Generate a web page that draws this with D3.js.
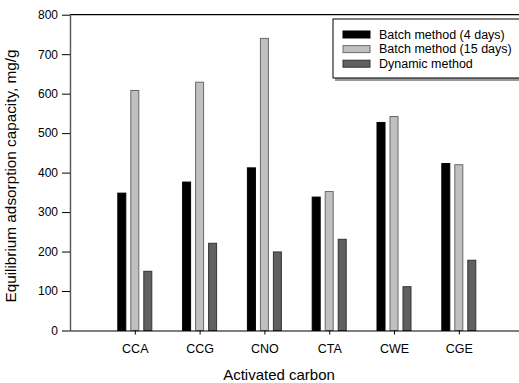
<!DOCTYPE html>
<html>
 <head>
    <script type="text/javascript" src="https://d3js.org/d3.v7.min.js"></script>
    <style>
      body { margin: 0; background: #fff; }
      text { font-family: "Liberation Sans", Arial, sans-serif; }
    </style>
 </head>
 <body>
    <div id="my_dataviz"></div>
<script>

  // data
  var carbons = ["CCA", "CCG", "CNO", "CTA", "CWE", "CGE"];
  var batch4  = [348, 376, 412, 338, 527, 423];
  var batch15 = [608, 629, 740, 352, 542, 420];
  var dynamic = [150, 221, 199, 231, 111, 178];
  var seriesNames = ["Batch method (4 days)", "Batch method (15 days)", "Dynamic method"];
  var yTicks = [0, 100, 200, 300, 400, 500, 600, 700, 800];

  var seriesValues = [batch4, batch15, dynamic];
  var fills   = ["#000000", "#c0c0c0", "#606060"];
  var strokes = ["#000000", "#6a6a6a", "#333333"];

  var W = 519, H = 383;
  var plotLeft = 70, plotTop = 14.7, plotBottom = 330.5;

  var svg = d3.select("#my_dataviz")
    .append("svg")
      .attr("width", W)
      .attr("height", H);

  // scales
  var x = d3.scaleLinear().domain([0, 7]).range([plotLeft, plotLeft + 64.8 * 7]);
  var inner = d3.scaleBand().domain([0, 1, 2]).range([-17.5, 17.5]).paddingInner(4 / 13).paddingOuter(0);
  var y = d3.scaleLinear().domain([0, 800]).range([plotBottom, plotTop]);

  // bars
  var rows = [];
  carbons.forEach(function(c, i) {
    seriesValues.forEach(function(vals, s) {
      rows.push({ i: i + 1, s: s, v: vals[i] });
    });
  });

  svg.append("g")
    .selectAll("rect")
    .data(rows)
    .join("rect")
      .attr("x", d => x(d.i) + inner(d.s) + 0.5)
      .attr("y", d => y(d.v))
      .attr("width", inner.bandwidth() - 1)
      .attr("height", d => y(0) - y(d.v))
      .attr("fill", d => fills[d.s])
      .attr("stroke", d => strokes[d.s])
      .attr("stroke-width", 1);

  // top frame line
  svg.append("line")
    .attr("x1", plotLeft).attr("x2", W)
    .attr("y1", y(800)).attr("y2", y(800))
    .attr("stroke", "#000").attr("stroke-width", 1.2);

  // y axis
  var yAxis = svg.append("g")
    .attr("transform", "translate(" + plotLeft + ",0)")
    .call(d3.axisLeft(y).tickValues(yTicks).tickSize(8).tickPadding(4).tickSizeOuter(0));
  yAxis.select(".domain").attr("stroke", "#555").attr("stroke-width", 1.4);
  yAxis.selectAll(".tick line").attr("stroke", "#000");
  yAxis.selectAll("text").attr("font-size", 12).attr("fill", "#000")
    .style("font-family", "'Liberation Sans', Arial, sans-serif");

  // x axis
  var xAxis = svg.append("g")
    .attr("transform", "translate(0," + plotBottom + ")")
    .call(d3.axisBottom(x).tickValues([1, 2, 3, 4, 5, 6])
      .tickFormat(d => carbons[d - 1]).tickSize(4).tickPadding(10).tickSizeOuter(0));
  xAxis.select(".domain").attr("stroke", "#000").attr("stroke-width", 1.2);
  xAxis.selectAll("text").attr("font-size", 12.5).attr("fill", "#000")
    .style("font-family", "'Liberation Sans', Arial, sans-serif");

  // axis titles
  svg.append("text")
    .attr("x", 279).attr("y", 380)
    .attr("text-anchor", "middle")
    .attr("font-size", 15)
    .text("Activated carbon");

  svg.append("text")
    .attr("transform", "translate(16,176) rotate(-90)")
    .attr("text-anchor", "middle")
    .attr("font-size", 15.3)
    .text("Equilibrium adsorption capacity, mg/g");

  // legend
  var lg = svg.append("g").attr("transform", "translate(333,19)");
  lg.append("rect")
    .attr("x", 2).attr("y", 2).attr("width", 200).attr("height", 60)
    .attr("fill", "#999");
  lg.append("rect")
    .attr("x", 0).attr("y", 0).attr("width", 200).attr("height", 59)
    .attr("fill", "#fff").attr("stroke", "#000").attr("stroke-width", 1);

  var item = lg.selectAll(".item")
    .data(seriesNames)
    .join("g")
      .attr("class", "item")
      .attr("transform", (d, i) => "translate(10," + (12 + i * 14.6) + ")");
  item.append("rect")
    .attr("width", 27).attr("height", 7)
    .attr("fill", (d, i) => fills[i])
    .attr("stroke", (d, i) => strokes[i]);
  item.append("text")
    .attr("x", 36).attr("y", 7.8)
    .attr("font-size", 12.5)
    .text(d => d);

</script>
 </body>
</html>
